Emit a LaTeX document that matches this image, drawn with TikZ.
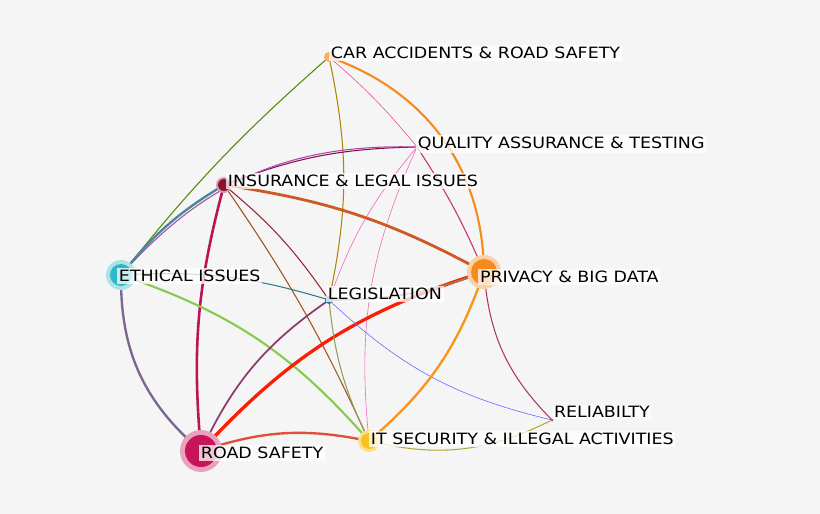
\documentclass[tikz,border=0pt]{standalone}
\usepackage{fontspec}
\setmainfont{DejaVu Sans}[FakeStretch=1.12]
\begin{document}
\begin{tikzpicture}[x=0.03cm,y=-0.03cm,
  lbl/.style={anchor=west,fill=white,fill opacity=0.75,text opacity=1,inner sep=1.5pt,font=\fontsize{13.3}{14}\selectfont},
  e/.style={line width=#1},
  e/.default=0.9pt]
\fill[gray!8] (0,0) rectangle (820,514);
\useasboundingbox (0,0) rectangle (820,514);
\definecolor{cOr}{HTML}{F58A1F}
\definecolor{cDr}{HTML}{8E1030}
\definecolor{cCy}{HTML}{30B8C8}
\definecolor{cCr}{HTML}{C8155A}
\definecolor{cYe}{HTML}{F8C020}
\definecolor{cTe}{HTML}{2E7A8A}
\coordinate (car) at (329,57);
\coordinate (qa) at (417,147);
\coordinate (ins) at (224,185);
\coordinate (eth) at (121,275);
\coordinate (priv) at (484,272);
\coordinate (leg) at (329,300);
\coordinate (rel) at (552,420);
\coordinate (road) at (201,451);
\coordinate (it) at (369,441);
% edges
\draw[e=1.8pt,cOr] (car) to[bend left=35] (priv);
\draw[e,cOr!50!green!70!black] (car) to[bend right=5] (eth);
\draw[e,cOr!40!olive] (car) to[bend left=12] (leg);
\draw[e=0.5pt,cOr!50!magenta] (car) to[bend left=5] (qa);
\draw[e,cDr!70!violet] (ins) to[bend left=10] (qa);
\draw[e,violet!70] (eth) to[bend left=25] (qa);
\draw[e,magenta!60!cDr] (qa) to[bend left=5] (priv);
\draw[e=0.5pt,magenta!60] (qa) to[bend right=10] (leg);
\draw[e=0.5pt,magenta!60] (qa) to[bend right=15] (it);
\draw[e=2.4pt,cOr!60!cDr] (ins) to[bend left=10] (priv);
\draw[e=2pt,cCy!70!cDr] (ins) to[bend right=10] (eth);
\draw[e=2.2pt,cCr!80!cDr] (ins) to[bend right=10] (road);
\draw[e,cDr!80!brown] (ins) to[bend left=8] (leg);
\draw[e,cDr!50!cYe!80!black] (ins) to[bend left=5] (it);
\draw[e,cTe] (eth) to[bend left=10] (leg);
\draw[e=1.8pt,cCy!40!cYe!80!green] (eth) to[bend left=15] (it);
\draw[e=2pt,cCy!50!cCr] (eth) to[bend right=25] (road);
\draw[e=2.8pt,red!80!cOr] (road) to[bend left=15] (priv);
\draw[e=1.5pt,cCr!60!cTe] (road) to[bend left=15] (leg);
\draw[e=2pt,cCr!50!cOr] (road) to[bend left=15] (it);
\draw[e=1.5pt,cTe!50!cOr] (leg) to[bend right=10] (priv);
\draw[e,cTe!50!cYe] (leg) to[bend right=10] (it);
\draw[e=0.5pt,blue!60] (leg) to[bend right=15] (rel);
\draw[e=2pt,cOr!80!cYe] (priv) to[bend left=15] (it);
\draw[e,violet!60!cOr] (priv) to[bend right=20] (rel);
\draw[e,olive!70] (it) to[bend right=20] (rel);
% nodes
\fill[cOr!70] (car) circle (5);
\fill[violet!40] (qa) circle (2);
\fill[cDr!40] (ins) circle (8); \fill[cDr] (ins) circle (6);
\fill[cCy!40] (eth) circle (15); \fill[cCy] (eth) circle (11);
\fill[cOr!40] (priv) circle (17); \fill[cOr] (priv) circle (13);
\fill[cTe] (leg) circle (4);
\fill[blue!60] (rel) circle (1.5);
\fill[cCr!40] (road) circle (21); \fill[cCr] (road) circle (16);
\fill[cYe!50] (it) circle (11); \fill[cYe] (it) circle (8);
% labels
\node[lbl] (lcar) at (329,53) {CAR ACCIDENTS \& ROAD SAFETY};
\node[lbl] (lqa) at (416,144) {QUALITY ASSURANCE \& TESTING};
\node[lbl] (lins) at (226,181) {INSURANCE \& LEGAL ISSUES};
\node[lbl] (leth) at (117,276) {ETHICAL ISSUES};
\node[lbl] (lpriv) at (478,277) {PRIVACY \& BIG DATA};
\node[lbl] (lleg) at (326,294) {LEGISLATION};
\node[lbl] (lrel) at (552,412) {RELIABILTY};
\node[lbl] (lit) at (369,439) {IT SECURITY \& ILLEGAL ACTIVITIES};
\node[lbl] (lroad) at (199,453) {ROAD SAFETY};
\end{tikzpicture}
\end{document}
